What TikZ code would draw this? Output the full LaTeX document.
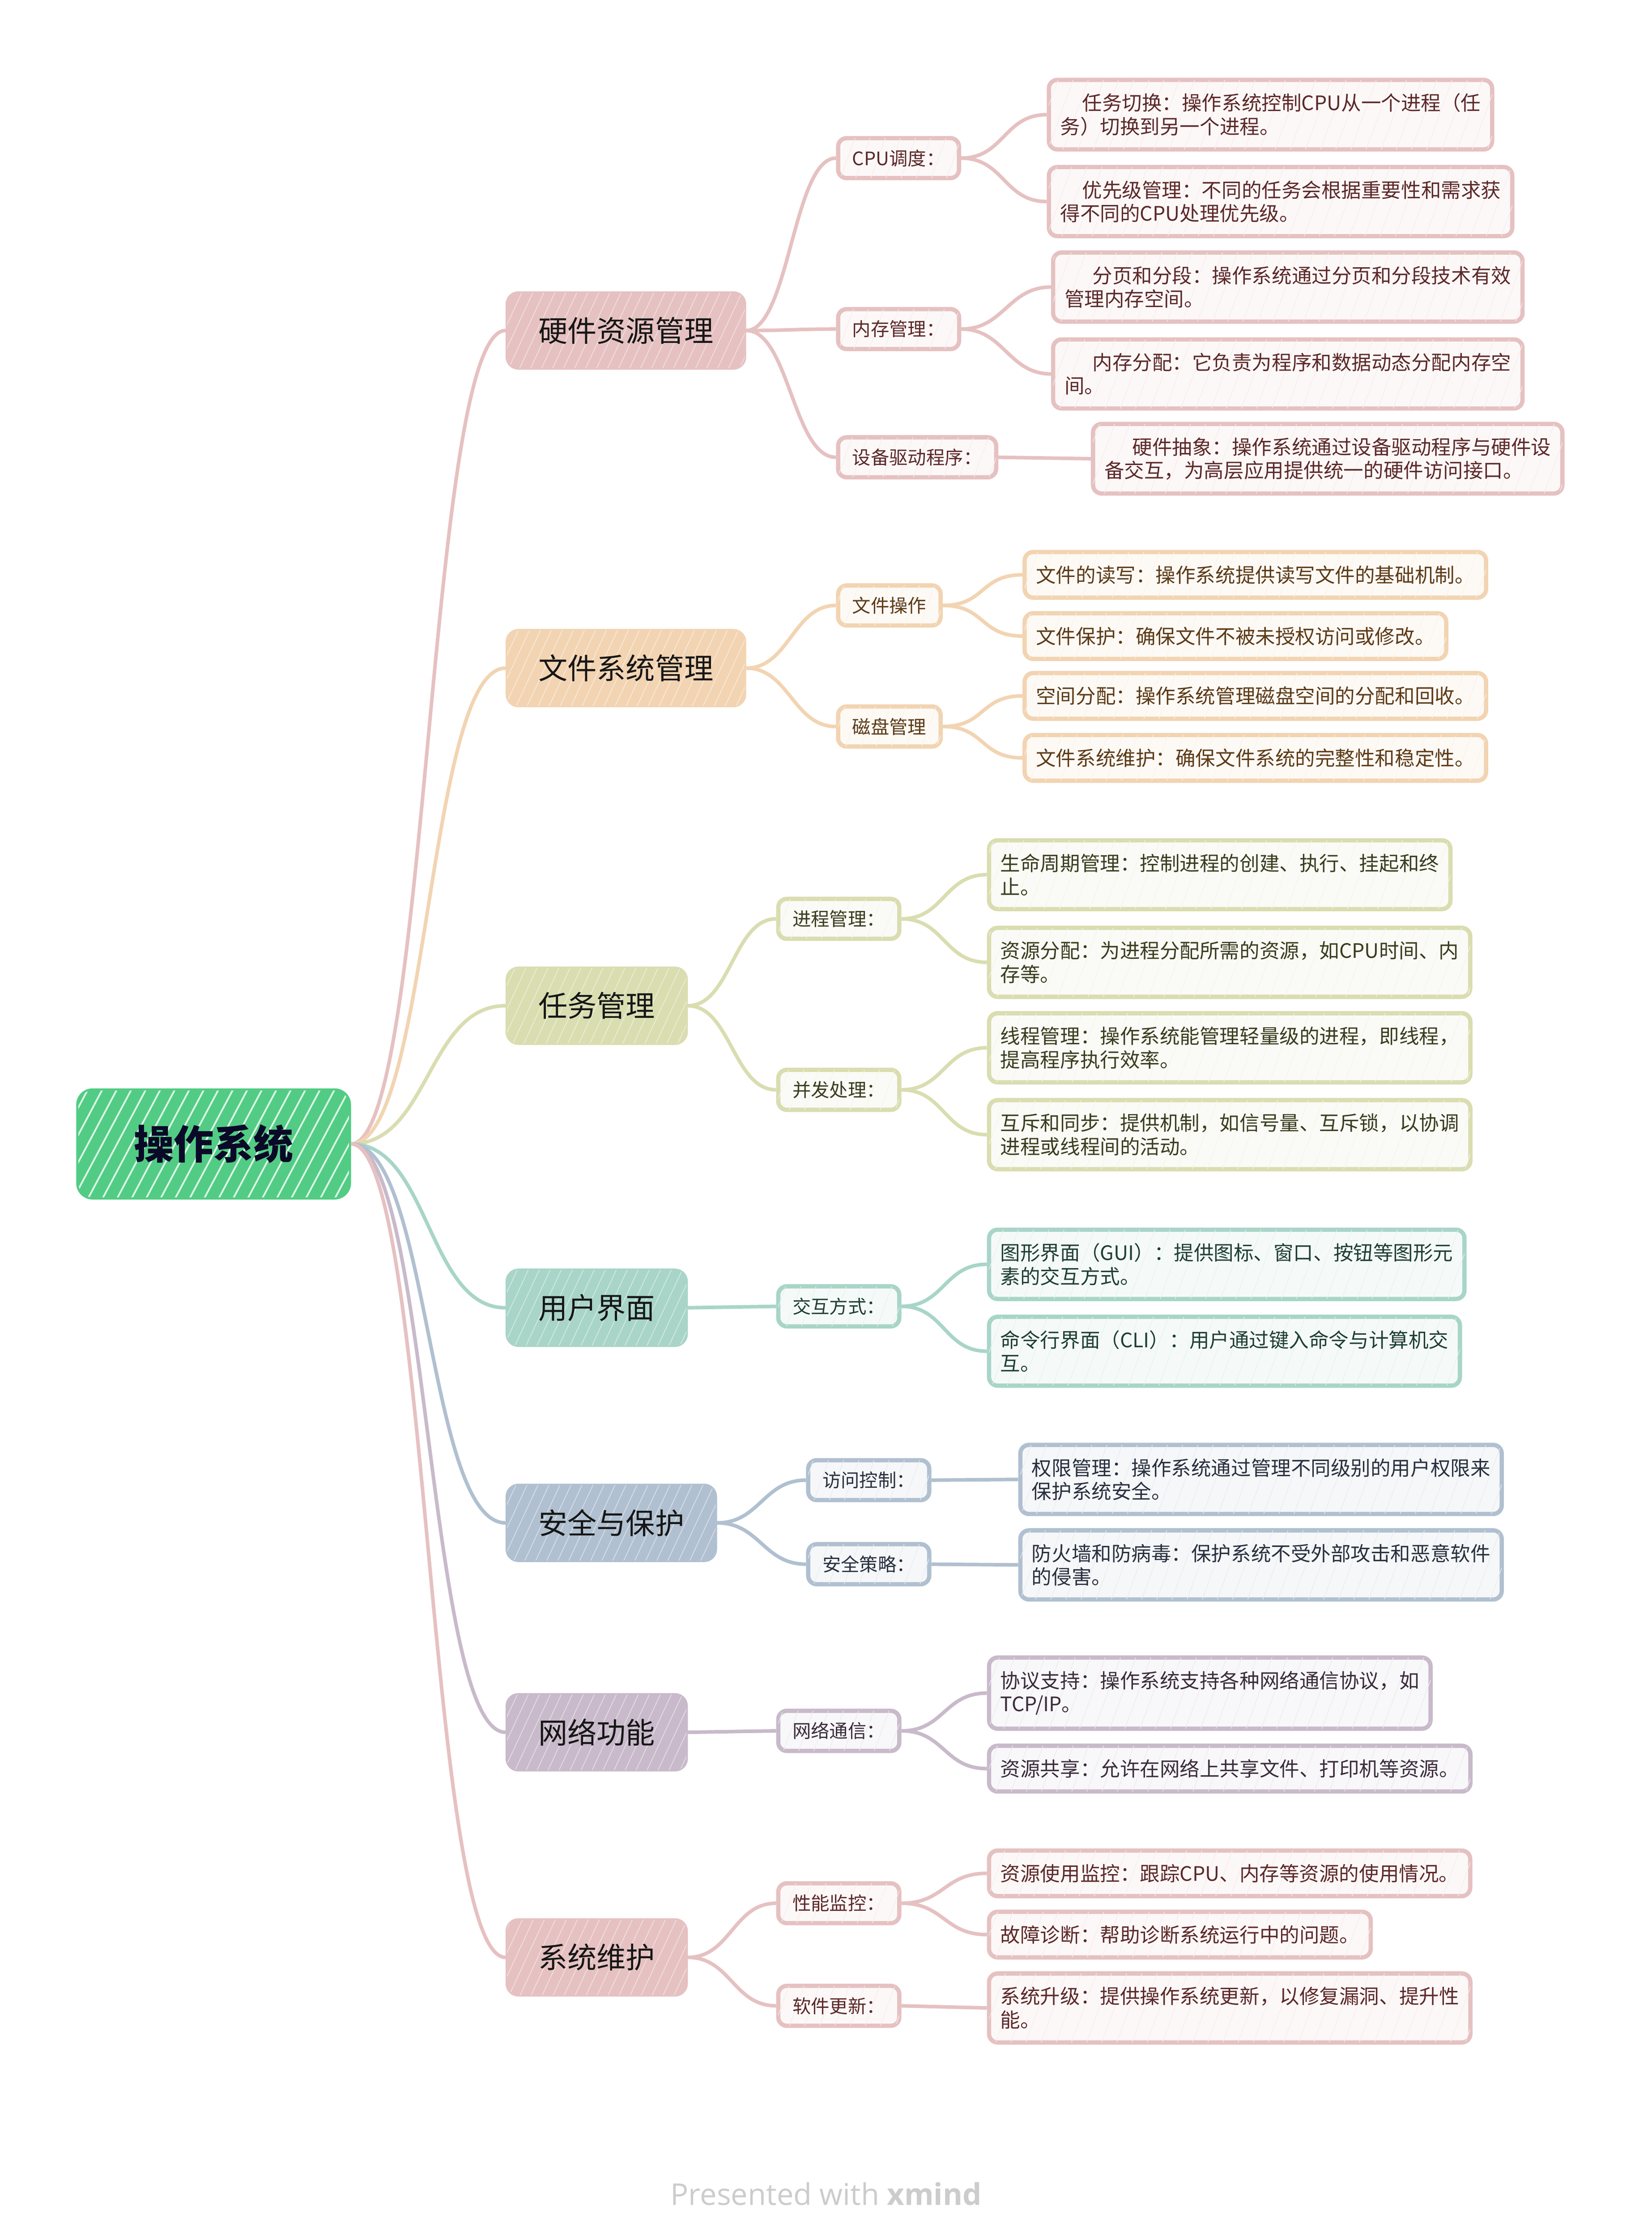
\documentclass[tikz,border=0pt]{standalone}
\usepackage{fontspec}
\setmainfont{Noto Sans CJK SC}
\newfontfamily\footfont{Open Sans}
\usetikzlibrary{patterns.meta}

\definecolor{brroot}{RGB}{82,204,132}
\definecolor{brhw}{RGB}{230,193,193}
\definecolor{brfs}{RGB}{242,212,178}
\definecolor{brtm}{RGB}{217,221,176}
\definecolor{brui}{RGB}{168,213,200}
\definecolor{brsc}{RGB}{176,192,208}
\definecolor{brnw}{RGB}{200,186,202}
\definecolor{brmt}{RGB}{230,193,193}
\definecolor{brhwt}{RGB}{92,40,40}
\definecolor{brfst}{RGB}{92,58,22}
\definecolor{brtmt}{RGB}{58,60,30}
\definecolor{bruit}{RGB}{30,62,52}
\definecolor{brsct}{RGB}{40,48,62}
\definecolor{brnwt}{RGB}{58,44,60}
\definecolor{brmtt}{RGB}{92,40,40}
\definecolor{roottext}{RGB}{10,10,40}
\definecolor{topictext}{RGB}{22,22,22}
\definecolor{footgrey}{RGB}{204,204,204}

\newcommand\osrootfont{\fontsize{28}{32}\selectfont\bfseries}
\newcommand\ostopicfont{\fontsize{20.5}{24}\selectfont}
\newcommand\ossubfont{\fontsize{13}{15}\selectfont}
\newcommand\osleaffont{\fontsize{14}{16.5}\selectfont}

\begin{document}
\begin{tikzpicture}[x=1pt,y=-1pt]
          \tikzstyle{osroot}=[fill=brroot, draw=brroot, line width=3pt, rounded corners=10pt,
            minimum width=190pt, minimum height=75pt, font=\osrootfont, text=roottext,
            postaction={pattern={Lines[angle=62,distance=9pt,line width=1.2pt]}, pattern color=white!80!brroot}]
          \tikzstyle{ostopic}=[anchor=west, fill=#1, draw=#1, line width=2pt, rounded corners=8pt,
            minimum height=53pt, inner xsep=22pt, font=\ostopicfont, text=topictext,
            postaction={pattern={Lines[angle=65,distance=7pt,line width=0.6pt]}, pattern color=#1!55!white}]
          \tikzstyle{ossub}=[anchor=west, fill=#1!12!white, draw=#1, line width=3pt, rounded corners=6pt,
            inner xsep=10pt, inner ysep=8pt, font=\ossubfont, text=#1t,
            postaction={pattern={Lines[angle=70,distance=10pt,line width=0.4pt]}, pattern color=#1!30!white}]
          \tikzstyle{osleaf}=[anchor=west, fill=#1!12!white, draw=#1, line width=3pt, rounded corners=6pt,
            align=left, inner xsep=8pt, inner ysep=9.5pt, font=\osleaffont, text=#1t,
            postaction={pattern={Lines[angle=70,distance=10pt,line width=0.4pt]}, pattern color=#1!30!white}]
          \tikzstyle{oslink}=[draw=#1, line width=2.5pt]
          \useasboundingbox (0,0) rectangle (1160,1571);
          %\node (name) at (x,y) [style=colour] {text};
          \node[osroot] (os) at (150,803) {操作系统};
          % main topics
          \node[ostopic=brhw] (hw) at (355,232) {硬件资源管理};
          \node[ostopic=brfs] (fs) at (355,469) {文件系统管理};
          \node[ostopic=brtm] (tm) at (355,706) {任务管理};
          \node[ostopic=brui] (ui) at (355,918) {用户界面};
          \node[ostopic=brsc] (sc) at (355,1069) {安全与保护};
          \node[ostopic=brnw] (nw) at (355,1216) {网络功能};
          \node[ostopic=brmt] (mt) at (355,1374) {系统维护};
          % subtopics
          \node[ossub=brhw] (hw-cpu) at (587,111) {CPU调度：};
          \node[ossub=brhw] (hw-mem) at (587,231) {内存管理：};
          \node[ossub=brhw] (hw-drv) at (587,321) {设备驱动程序：};
          \node[ossub=brfs] (fs-op) at (587,425) {文件操作};
          \node[ossub=brfs] (fs-disk) at (587,510) {磁盘管理};
          \node[ossub=brtm] (tm-proc) at (545,645) {进程管理：};
          \node[ossub=brtm] (tm-conc) at (545,765) {并发处理：};
          \node[ossub=brui] (ui-io) at (545,917) {交互方式：};
          \node[ossub=brsc] (sc-acc) at (566,1039) {访问控制：};
          \node[ossub=brsc] (sc-pol) at (566,1098) {安全策略：};
          \node[ossub=brnw] (nw-net) at (545,1215) {网络通信：};
          \node[ossub=brmt] (mt-perf) at (545,1336) {性能监控：};
          \node[ossub=brmt] (mt-upd) at (545,1408) {软件更新：};
          % details
          \node[osleaf=brhw] (hw-cpu-1) at (735,80.5) {\hspace*{1.1em}任务切换：操作系统控制CPU从一个进程（任\\务）切换到另一个进程。};
          \node[osleaf=brhw] (hw-cpu-2) at (735,141.5) {\hspace*{1.1em}优先级管理：不同的任务会根据重要性和需求获\\得不同的CPU处理优先级。};
          \node[osleaf=brhw] (hw-mem-1) at (738,201.5) {\hspace*{1.4em}分页和分段：操作系统通过分页和分段技术有效\\管理内存空间。};
          \node[osleaf=brhw] (hw-mem-2) at (738,262.5) {\hspace*{1.4em}内存分配：它负责为程序和数据动态分配内存空\\间。};
          \node[osleaf=brhw] (hw-drv-1) at (766,322) {\hspace*{1.4em}硬件抽象：操作系统通过设备驱动程序与硬件设\\备交互，为高层应用提供统一的硬件访问接口。};
          \node[osleaf=brfs] (fs-op-1) at (718,403.5) {文件的读写：操作系统提供读写文件的基础机制。};
          \node[osleaf=brfs] (fs-op-2) at (718,446.5) {文件保护：确保文件不被未授权访问或修改。};
          \node[osleaf=brfs] (fs-disk-1) at (718,488.5) {空间分配：操作系统管理磁盘空间的分配和回收。};
          \node[osleaf=brfs] (fs-disk-2) at (718,532) {文件系统维护：确保文件系统的完整性和稳定性。};
          \node[osleaf=brtm] (tm-proc-1) at (693,614) {生命周期管理：控制进程的创建、执行、挂起和终\\止。};
          \node[osleaf=brtm] (tm-proc-2) at (693,675.5) {资源分配：为进程分配所需的资源，如CPU时间、内\\存等。};
          \node[osleaf=brtm] (tm-conc-1) at (693,735.5) {线程管理：操作系统能管理轻量级的进程，即线程，\\提高程序执行效率。};
          \node[osleaf=brtm] (tm-conc-2) at (693,796.5) {互斥和同步：提供机制，如信号量、互斥锁，以协调\\进程或线程间的活动。};
          \node[osleaf=brui] (ui-io-1) at (693,887.5) {图形界面（GUI）：提供图标、窗口、按钮等图形元\\素的交互方式。};
          \node[osleaf=brui] (ui-io-2) at (693,948.5) {命令行界面（CLI）：用户通过键入命令与计算机交\\互。};
          \node[osleaf=brsc] (sc-acc-1) at (715,1038.5) {权限管理：操作系统通过管理不同级别的用户权限来\\保护系统安全。};
          \node[osleaf=brsc] (sc-pol-1) at (715,1098.5) {防火墙和防病毒：保护系统不受外部攻击和恶意软件\\的侵害。};
          \node[osleaf=brnw] (nw-net-1) at (693,1188.5) {协议支持：操作系统支持各种网络通信协议，如\\TCP/IP。};
          \node[osleaf=brnw] (nw-net-2) at (693,1241.5) {资源共享：允许在网络上共享文件、打印机等资源。};
          \node[osleaf=brmt] (mt-perf-1) at (693,1315) {资源使用监控：跟踪CPU、内存等资源的使用情况。};
          \node[osleaf=brmt] (mt-perf-2) at (693,1358) {故障诊断：帮助诊断系统运行中的问题。};
          \node[osleaf=brmt] (mt-upd-1) at (693,1409.5) {系统升级：提供操作系统更新，以修复漏洞、提升性\\能。};
          \node[font=\footfont\fontsize{21}{24}\selectfont, text=footgrey] (credit) at (580,1540) {Presented with \textbf{xmind}};
          % root to topics
          \draw[oslink=brhw] (os.east) .. controls +(55,0) and +(-55,0) .. (hw.west);
          \draw[oslink=brfs] (os.east) .. controls +(55,0) and +(-55,0) .. (fs.west);
          \draw[oslink=brtm] (os.east) .. controls +(55,0) and +(-55,0) .. (tm.west);
          \draw[oslink=brui] (os.east) .. controls +(55,0) and +(-55,0) .. (ui.west);
          \draw[oslink=brsc] (os.east) .. controls +(55,0) and +(-55,0) .. (sc.west);
          \draw[oslink=brnw] (os.east) .. controls +(55,0) and +(-55,0) .. (nw.west);
          \draw[oslink=brmt] (os.east) .. controls +(55,0) and +(-55,0) .. (mt.west);
          % topics to subtopics
          \draw[oslink=brhw] (hw.east) .. controls +(30,0) and +(-30,0) .. (hw-cpu.west);
          \draw[oslink=brhw] (hw.east) .. controls +(30,0) and +(-30,0) .. (hw-mem.west);
          \draw[oslink=brhw] (hw.east) .. controls +(30,0) and +(-30,0) .. (hw-drv.west);
          \draw[oslink=brfs] (fs.east) .. controls +(30,0) and +(-30,0) .. (fs-op.west);
          \draw[oslink=brfs] (fs.east) .. controls +(30,0) and +(-30,0) .. (fs-disk.west);
          \draw[oslink=brtm] (tm.east) .. controls +(30,0) and +(-30,0) .. (tm-proc.west);
          \draw[oslink=brtm] (tm.east) .. controls +(30,0) and +(-30,0) .. (tm-conc.west);
          \draw[oslink=brui] (ui.east) -- (ui-io.west);
          \draw[oslink=brsc] (sc.east) .. controls +(30,0) and +(-30,0) .. (sc-acc.west);
          \draw[oslink=brsc] (sc.east) .. controls +(30,0) and +(-30,0) .. (sc-pol.west);
          \draw[oslink=brnw] (nw.east) -- (nw-net.west);
          \draw[oslink=brmt] (mt.east) .. controls +(30,0) and +(-30,0) .. (mt-perf.west);
          \draw[oslink=brmt] (mt.east) .. controls +(30,0) and +(-30,0) .. (mt-upd.west);
          % subtopics to details
          \draw[oslink=brhw] (hw-cpu.east) .. controls +(30,0) and +(-30,0) .. (hw-cpu-1.west);
          \draw[oslink=brhw] (hw-cpu.east) .. controls +(30,0) and +(-30,0) .. (hw-cpu-2.west);
          \draw[oslink=brhw] (hw-mem.east) .. controls +(30,0) and +(-30,0) .. (hw-mem-1.west);
          \draw[oslink=brhw] (hw-mem.east) .. controls +(30,0) and +(-30,0) .. (hw-mem-2.west);
          \draw[oslink=brhw] (hw-drv.east) -- (hw-drv-1.west);
          \draw[oslink=brfs] (fs-op.east) .. controls +(30,0) and +(-30,0) .. (fs-op-1.west);
          \draw[oslink=brfs] (fs-op.east) .. controls +(30,0) and +(-30,0) .. (fs-op-2.west);
          \draw[oslink=brfs] (fs-disk.east) .. controls +(30,0) and +(-30,0) .. (fs-disk-1.west);
          \draw[oslink=brfs] (fs-disk.east) .. controls +(30,0) and +(-30,0) .. (fs-disk-2.west);
          \draw[oslink=brtm] (tm-proc.east) .. controls +(30,0) and +(-30,0) .. (tm-proc-1.west);
          \draw[oslink=brtm] (tm-proc.east) .. controls +(30,0) and +(-30,0) .. (tm-proc-2.west);
          \draw[oslink=brtm] (tm-conc.east) .. controls +(30,0) and +(-30,0) .. (tm-conc-1.west);
          \draw[oslink=brtm] (tm-conc.east) .. controls +(30,0) and +(-30,0) .. (tm-conc-2.west);
          \draw[oslink=brui] (ui-io.east) .. controls +(30,0) and +(-30,0) .. (ui-io-1.west);
          \draw[oslink=brui] (ui-io.east) .. controls +(30,0) and +(-30,0) .. (ui-io-2.west);
          \draw[oslink=brsc] (sc-acc.east) -- (sc-acc-1.west);
          \draw[oslink=brsc] (sc-pol.east) -- (sc-pol-1.west);
          \draw[oslink=brnw] (nw-net.east) .. controls +(30,0) and +(-30,0) .. (nw-net-1.west);
          \draw[oslink=brnw] (nw-net.east) .. controls +(30,0) and +(-30,0) .. (nw-net-2.west);
          \draw[oslink=brmt] (mt-perf.east) .. controls +(30,0) and +(-30,0) .. (mt-perf-1.west);
          \draw[oslink=brmt] (mt-perf.east) .. controls +(30,0) and +(-30,0) .. (mt-perf-2.west);
          \draw[oslink=brmt] (mt-upd.east) -- (mt-upd-1.west);
      \end{tikzpicture}
\end{document}
